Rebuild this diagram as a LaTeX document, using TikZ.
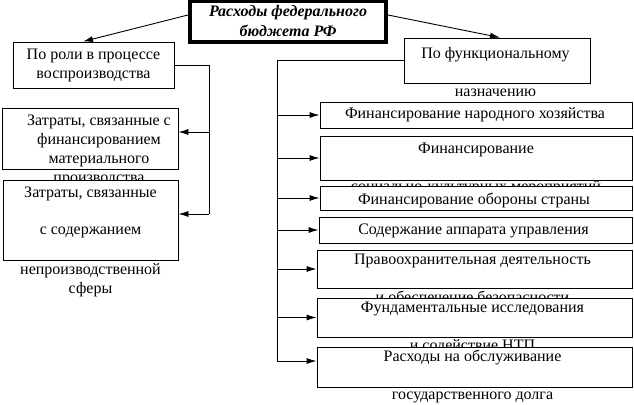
\documentclass[tikz,border=0pt]{standalone}
\usepackage{fontspec}
\setmainfont{Liberation Serif}
\usetikzlibrary{arrows.meta}
\usetikzlibrary{positioning}

\begin{document}
\begin{tikzpicture}[x=1pt, y=-1pt, >={Latex[length=10pt,width=6pt]},
    box/.style={draw, line width=0.9pt, fill=white, inner sep=0pt},
    txt/.style={align=center, inner sep=0pt, font=\fontsize{16}{19}\selectfont, execute at begin node=\strut},
    link/.style={line width=0.9pt}]
    \useasboundingbox[fill=white] (0,0) rectangle (634,404);
    % left branch
    \node[box, minimum width=161pt, minimum height=46pt] (role) at (93.5,65) {};
    \node[txt, below=7.7pt of role.north] (roletext) {По роли в процессе\\воспроизводства};
    \node[box, minimum width=176pt, minimum height=61pt] (cost1) at (90,138.5) {};
    \node[txt, below=6.7pt of cost1.north, xshift=9pt] (cost1text) {Затраты, связанные с\\финансированием\\материального\\производства};
    \node[box, minimum width=175pt, minimum height=80pt] (cost2) at (90.5,220) {};
    \node[txt, below=7.2pt of cost2.north] (cost2text) {Затраты, связанные\\[18pt]с содержанием\\[21pt]непроизводственной\\сферы};
    % right branch
    \node[box, minimum width=186pt, minimum height=45pt] (func) at (497,60.5) {};
    \node[txt, below=9.7pt of func.north, xshift=-1.5pt] (functext) {По функциональному\\[19pt]назначению};
    \node[box, minimum width=312pt, minimum height=26pt] (fin1) at (476,115) {};
    \node[txt, below=3.2pt of fin1.north, xshift=-1pt] (fin1text) {Финансирование народного хозяйства};
    \node[box, minimum width=312pt, minimum height=44pt] (fin2) at (476,158) {};
    \node[txt, below=7.2pt of fin2.north] (fin2text) {Финансирование\\[19pt]социально-культурных мероприятий};
    \node[box, minimum width=312pt, minimum height=24pt] (fin3) at (476,198) {};
    \node[txt, below=5pt of fin3.north, xshift=-2pt] (fin3text) {Финансирование обороны страны};
    \node[box, minimum width=313pt, minimum height=26pt] (adm) at (475.5,230) {};
    \node[txt, below=4pt of adm.north, xshift=-2pt] (admtext) {Содержание аппарата управления};
    \node[box, minimum width=315pt, minimum height=38pt] (law) at (474.5,269) {};
    \node[txt, below=4.7pt of law.north, xshift=-2pt] (lawtext) {Правоохранительная деятельность\\[19pt]и обеспечение безопасности};
    \node[box, minimum width=315pt, minimum height=39pt] (sci) at (474.5,317.5) {};
    \node[txt, below=4.7pt of sci.north, xshift=-2pt] (scitext) {Фундаментальные исследования\\[19pt]и содействие НТП};
    \node[box, minimum width=315pt, minimum height=40pt] (debt) at (474.5,367) {};
    \node[txt, below=3pt of debt.north, xshift=-2pt] (debttext) {Расходы на обслуживание\\[19pt]государственного долга};
    % title
    \node[draw, line width=4pt, fill=white, inner sep=0pt, minimum width=196pt, minimum height=41pt, align=center,
        font=\bfseries\itshape\fontsize{16}{20}\selectfont] (title) at (288,21.5) {Расходы федерального\\бюджета РФ};
    % connectors
    \draw[link, ->] ([yshift=6.5pt]title.west) -- ([xshift=-10.5pt]role.north);
    \draw[link, ->] ([yshift=6.5pt]title.east) -- ([xshift=3pt]func.north);
    \coordinate (ltap) at (209,132);
    \coordinate (lbus) at (209,214);
    \draw[link] (role.east) -| (lbus);
    \draw[link, ->] (ltap) -- (cost1.east |- ltap);
    \draw[link, ->] (lbus) -- (cost2.east |- lbus);
    \coordinate (rbus) at (277,361);
    \draw[link] (func.west) -| (rbus);
    \foreach \b in {fin1,fin2,fin3,adm,law,sci}
        \draw[link, ->] (rbus |- \b.west) -- (\b.west);
    \draw[link, ->] (rbus) -- (debt.west |- rbus);
\end{tikzpicture}
\end{document}
